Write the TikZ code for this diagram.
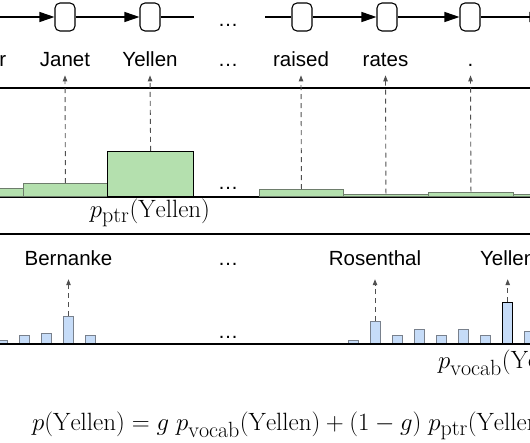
\documentclass[tikz,border=0pt]{standalone}
\usepackage{fontspec}
\newfontfamily\wordfont{Liberation Sans}
\usetikzlibrary{arrows.meta}
\DeclareMathSizes{25}{25}{22}{16}
\definecolor{barg}{RGB}{180,224,174}
\definecolor{barb}{RGB}{198,220,248}
\definecolor{edgeg}{RGB}{110,125,108}
\definecolor{edgeb}{RGB}{120,128,140}
\definecolor{dashc}{RGB}{80,80,80}
\begin{document}
\begin{tikzpicture}[x=1pt,y=-1pt,
  cell/.style={draw, line width=1.1pt, rounded corners=5pt, minimum width=20pt, minimum height=28pt, inner sep=0pt},
  bigarrow/.style={-{Triangle[length=15pt,width=10pt]}, line width=1.1pt},
  plainline/.style={line width=1.1pt},
  rule/.style={line width=1.3pt},
  word/.style={font={\wordfont\fontsize{20.5}{24}\selectfont}, text height=15pt, text depth=4pt, inner xsep=0pt, inner ysep=4.5pt, anchor=base},
  bword/.style={word, inner ysep=10pt},
  ptrarrow/.style={draw=dashc, line width=0.9pt, dash pattern=on 5pt off 4pt, -{Triangle[length=6pt,width=4.5pt,fill=dashc]}},
  gbar/.style={draw=edgeg, fill=barg, line width=0.9pt, inner sep=0pt, anchor=south west},
  bbar/.style={draw=edgeb, fill=barb, line width=0.9pt, inner sep=0pt, minimum width=10pt, anchor=south},
  hot/.style={draw=black, line width=1.2pt},
  mathlab/.style={font=\fontsize{25}{30}\selectfont, inner sep=0pt}
]
\useasboundingbox (0,0) rectangle (530,442);
\clip (0,0) rectangle (530,442);

% ---- top row: recurrent cells ----
\node[cell] (c0) at (-20,17) {};
\node[cell] (c1) at (65,17) {};
\node[cell] (c2) at (150,17) {};
\node[cell] (c3) at (302,17) {};
\node[cell] (c4) at (387,17) {};
\node[cell] (c5) at (470,17) {};
\node[cell] (c6) at (555,17) {};
\coordinate (gapL) at (194,17);
\coordinate (gapR) at (265,17);
\draw[bigarrow] (c0) -- (c1);
\draw[bigarrow] (c1) -- (c2);
\draw[plainline] (c2) -- (gapL);
\draw[plainline] (gapR) -- (c3);
\draw[bigarrow] (c3) -- (c4);
\draw[bigarrow] (c4) -- (c5);
\draw[bigarrow] (c5) -- (c6);
\node[word] (topdots) at (228,26) {…};

% ---- words ----
\node[word, anchor=base east] (wchair) at (6.5,66.7) {Chair};
\node[word] (wjanet) at (65,66.7) {Janet};
\node[word] (wyellen) at (150,66.7) {Yellen};
\node[word] (wdots) at (228,66.7) {…};
\node[word] (wraised) at (301,66.7) {raised};
\node[word] (wrates) at (385.5,66.7) {rates};
\node[word] (wstop) at (470.5,66.7) {.};

\coordinate (r1a) at (0,88); \coordinate (r1b) at (530,88);
\draw[rule] (r1a) -- (r1b);

% ---- pointer distribution ----
\coordinate (b1a) at (0,197); \coordinate (b1b) at (530,197);
\draw[rule] (b1a) -- (b1b);
\node[gbar, minimum width=43pt, minimum height=8pt] (g1) at (-20,197) {};
\node[gbar, minimum width=84pt, minimum height=13pt] (g2) at (23,197) {};
\node[gbar, hot, minimum width=86pt, minimum height=45pt] (g3) at (107,197) {};
\node[gbar, minimum width=84pt, minimum height=7pt] (g4) at (259,197) {};
\node[gbar, minimum width=85pt, minimum height=2.5pt] (g5) at (343,197) {};
\node[gbar, minimum width=85pt, minimum height=4.5pt] (g6) at (428,197) {};
\node[gbar, minimum width=47pt, minimum height=2.5pt] (g7) at (513,197) {};
\node[word] (mdots) at (228,189.5) {…};

\draw[ptrarrow] (g2.north) -- (wjanet.south);
\draw[ptrarrow] (g3.north) -- (wyellen.south);
\draw[ptrarrow] (g4.north) -- (wraised.south);
\draw[ptrarrow] (g5.north) -- (wrates.south);
\draw[ptrarrow] (g6.north) -- (wstop.south);

\node[mathlab] (pptr) at (150,213) {$p_{\mathrm{ptr}}(\mathrm{Yellen})$};

\coordinate (r2a) at (0,234); \coordinate (r2b) at (530,234);
\draw[rule] (r2a) -- (r2b);

% ---- vocabulary distribution ----
\node[bword] (vbern) at (68.5,265) {Bernanke};
\node[bword] (vdots) at (228,265) {…};
\node[bword] (vrosen) at (375,265) {Rosenthal};
\node[bword] (vyellen) at (507.7,265) {Yellen};

\node[bbar, minimum height=3pt] (v1) at (2,344) {};
\node[bbar, minimum height=8pt] (v2) at (24.5,344) {};
\node[bbar, minimum height=10pt] (v3) at (46.5,344) {};
\node[bbar, minimum height=27pt] (v4) at (68.5,344) {};
\node[bbar, minimum height=8pt] (v5) at (90.5,344) {};
\node[bbar, minimum height=3pt] (v6) at (353,344) {};
\node[bbar, minimum height=22pt] (v7) at (375,344) {};
\node[bbar, minimum height=8pt] (v8) at (397,344) {};
\node[bbar, minimum height=14pt] (v9) at (419.5,344) {};
\node[bbar, minimum height=8pt] (v10) at (441.5,344) {};
\node[bbar, minimum height=14pt] (v11) at (463.5,344) {};
\node[bbar, minimum height=8pt] (v12) at (485.5,344) {};
\node[bbar, hot, minimum height=41pt] (v13) at (507.7,344) {};
\node[bbar, minimum height=12pt] (v14) at (529.8,344) {};
\coordinate (b2a) at (0,344); \coordinate (b2b) at (530,344);
\draw[rule] (b2a) -- (b2b);
\node[word] (bdots) at (228,338.5) {…};

\draw[ptrarrow] (v4.north) -- (vbern.south);
\draw[ptrarrow] (v7.north) -- (vrosen.south);
\draw[ptrarrow] (v13.north) -- (vyellen.south);

\node[mathlab, anchor=west] (pvocab) at (438,363) {$p_{\mathrm{vocab}}(\mathrm{Yellen})$};

% ---- mixture formula ----
\node[mathlab, anchor=west] (formula) at (32,426) {$p(\mathrm{Yellen}) = g\; p_{\mathrm{vocab}}(\mathrm{Yellen}) + (1-g)\; p_{\mathrm{ptr}}(\mathrm{Yellen})$};
\end{tikzpicture}
\end{document}
